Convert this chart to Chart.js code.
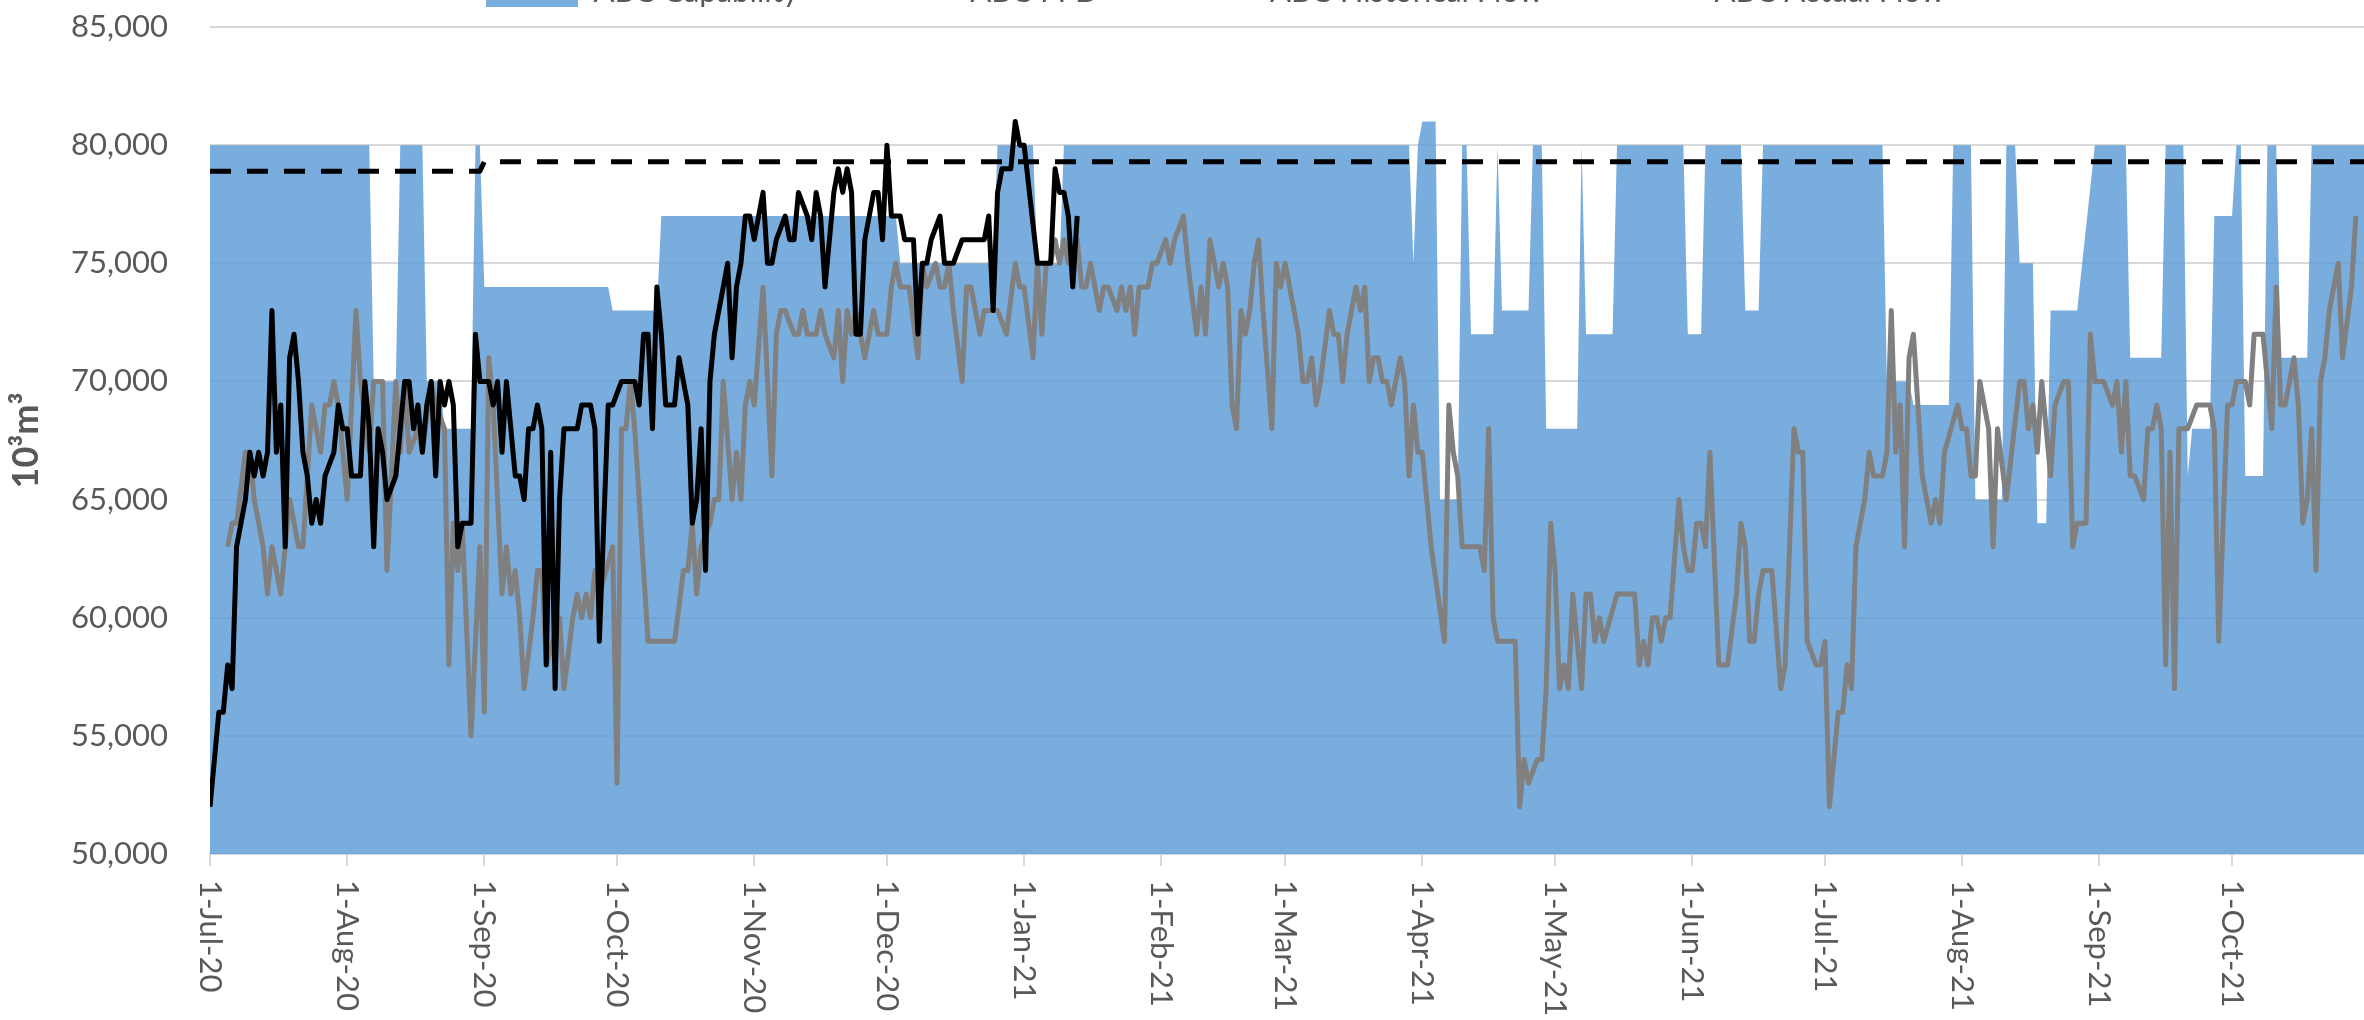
<!DOCTYPE html>
<html><head><meta charset="utf-8">
<script src="https://cdn.jsdelivr.net/npm/chart.js@4.4.1/dist/chart.umd.min.js"></script>
<style>
html,body{margin:0;padding:0;width:2364px;height:1020px;overflow:hidden;background:#fff}
#wrap{position:absolute;left:0;top:0}
canvas{display:block}
</style></head><body>
<div id="wrap"><canvas id="c"></canvas></div>
<script>
// ---- data (day index from 1-Jul-2020) ----
const monthTickDays = [0,31,62,92,123,153,184,215,243,274,304,335,365,396,427,457];
const monthTickLabels = ['1-Jul-20','1-Aug-20','1-Sep-20','1-Oct-20','1-Nov-20','1-Dec-20','1-Jan-21','1-Feb-21','1-Mar-21','1-Apr-21','1-May-21','1-Jun-21','1-Jul-21','1-Aug-21','1-Sep-21','1-Oct-21'];

const capabilityDays = [0,36,37,42,43,48,49,52,53,59,60,61,62,90,91,101,102,155,156,177,178,186,187,192,193,271,272,273,274,277,278,282,283,284,285,290,291,292,298,299,301,302,309,310,311,317,318,333,334,337,338,346,347,350,351,378,379,384,385,393,394,398,399,405,406,408,409,412,413,415,416,422,426,433,434,441,442,446,447,448,452,453,457,458,459,460,464,465,467,468,474,475,488];
const capabilityValues = [80000,80000,70000,70000,80000,80000,70000,70000,68000,68000,80000,80000,74000,74000,73000,73000,77000,77000,75000,75000,80000,80000,75000,75000,80000,80000,75000,80000,81000,81000,65000,65000,80000,80000,72000,72000,80000,73000,73000,80000,80000,68000,68000,80000,72000,72000,80000,80000,72000,72000,80000,80000,73000,73000,80000,80000,70000,70000,69000,69000,80000,80000,65000,65000,80000,80000,75000,75000,64000,64000,73000,73000,80000,80000,71000,71000,80000,80000,66000,68000,68000,77000,77000,80000,80000,66000,66000,80000,80000,71000,71000,80000,80000];

const ffdDays = [0,61,62,488];
const ffdValues = [78900,78900,79300,79300];

const historicalDays = [4,5,6,8,9,10,12,13,14,16,18,20,21,23,24,25,26,27,28,29,30,31,32,33,34,36,37,39,40,42,43,44,45,47,48,50,51,53,54,55,56,57,59,61,62,63,64,66,67,68,69,70,71,73,74,75,76,79,80,82,83,84,85,86,87,88,91,92,93,94,95,96,99,105,107,108,109,110,111,113,114,115,116,118,119,120,121,122,123,125,127,128,129,130,132,133,134,135,137,138,139,141,142,143,144,145,146,147,148,150,151,153,154,155,156,158,160,161,162,164,165,166,167,168,170,171,172,174,175,178,180,182,183,184,186,187,188,189,190,191,192,193,194,196,197,198,199,201,202,203,205,206,207,208,209,210,212,213,214,216,217,218,220,221,223,224,225,226,227,228,229,230,231,232,233,234,235,236,237,238,240,241,242,243,244,246,247,248,249,250,251,253,254,255,256,257,259,260,261,262,263,264,265,266,267,269,270,271,272,273,274,276,279,280,281,282,283,287,288,289,290,291,295,296,297,298,300,301,302,303,304,305,306,307,308,310,311,312,313,314,315,318,322,323,324,325,326,327,328,329,330,332,333,334,335,336,337,338,339,341,343,345,346,347,348,349,350,351,353,355,356,358,359,360,361,363,364,365,366,368,369,370,371,372,374,375,376,378,379,380,381,382,383,384,385,387,389,390,391,392,395,396,397,398,399,400,402,403,404,406,409,410,411,412,413,414,416,417,419,420,421,422,424,425,426,428,430,431,432,433,434,435,437,438,439,440,441,442,443,444,445,447,449,452,453,454,456,457,458,460,461,462,464,466,467,468,469,471,472,473,474,475,476,477,478,479,481,482,484,485];
const historicalValues = [63000,64000,64000,67000,67000,65000,63000,61000,63000,61000,65000,63000,63000,69000,68000,67000,69000,69000,70000,69000,67000,65000,69000,73000,70000,67000,70000,70000,62000,70000,67000,70000,67000,68000,67000,70000,69000,68000,58000,64000,62000,64000,55000,63000,56000,71000,69000,61000,63000,61000,62000,60000,57000,60000,62000,62000,58000,60000,57000,60000,61000,60000,61000,60000,62000,61000,63000,53000,68000,68000,70000,68000,59000,59000,62000,62000,64000,61000,63000,64000,65000,65000,70000,65000,67000,65000,69000,70000,69000,74000,66000,72000,73000,73000,72000,72000,73000,72000,72000,73000,72000,71000,73000,70000,73000,72000,73000,72000,71000,73000,72000,72000,74000,75000,74000,74000,71000,75000,74000,75000,74000,74000,75000,73000,70000,74000,74000,72000,73000,73000,72000,75000,74000,74000,71000,75000,72000,75000,75000,76000,75000,76000,75000,76000,74000,74000,75000,73000,74000,74000,73000,74000,73000,74000,72000,74000,74000,75000,75000,76000,75000,76000,77000,75000,72000,74000,72000,76000,75000,74000,75000,74000,69000,68000,73000,72000,73000,75000,76000,73000,68000,75000,74000,75000,74000,72000,70000,70000,71000,69000,70000,73000,72000,72000,70000,72000,74000,73000,74000,70000,71000,71000,70000,70000,69000,71000,70000,66000,69000,67000,67000,63000,59000,69000,67000,66000,63000,63000,62000,68000,60000,59000,59000,52000,54000,53000,54000,54000,57000,64000,62000,57000,58000,57000,61000,57000,61000,61000,59000,60000,59000,61000,61000,58000,59000,58000,60000,60000,59000,60000,60000,65000,63000,62000,62000,64000,64000,63000,67000,58000,58000,61000,64000,63000,59000,59000,61000,62000,62000,57000,58000,68000,67000,67000,59000,58000,58000,59000,52000,56000,56000,58000,57000,63000,65000,67000,66000,66000,67000,73000,67000,69000,63000,71000,72000,66000,64000,65000,64000,67000,69000,68000,68000,66000,66000,70000,68000,63000,68000,65000,70000,70000,68000,69000,67000,70000,66000,69000,70000,70000,63000,64000,64000,72000,70000,70000,69000,70000,67000,70000,66000,66000,65000,68000,68000,69000,68000,58000,67000,57000,68000,68000,69000,69000,68000,59000,69000,69000,70000,70000,69000,72000,72000,68000,74000,69000,69000,71000,69000,64000,65000,68000,62000,70000,71000,73000,75000,71000,74000,77000];

const actualDays = [0,2,3,4,5,6,7,8,9,10,11,12,13,14,15,16,17,18,19,20,21,22,23,24,25,26,28,29,30,31,32,34,35,36,37,38,39,40,42,44,45,46,47,48,49,50,51,52,53,54,55,56,57,59,60,61,63,64,65,66,67,69,70,71,72,73,74,75,76,77,78,79,80,83,84,86,87,88,90,91,93,96,97,98,99,100,101,102,103,105,106,107,108,109,110,111,112,113,114,116,117,118,119,120,121,122,123,125,126,127,128,130,131,132,133,135,136,137,138,139,141,142,143,144,145,146,147,148,150,151,152,153,154,156,157,159,160,161,162,163,165,166,168,170,175,176,177,178,179,181,182,183,184,187,190,191,192,193,194,195,196];
const actualValues = [52000,56000,56000,58000,57000,63000,64000,65000,67000,66000,67000,66000,67000,73000,67000,69000,63000,71000,72000,70000,67000,66000,64000,65000,64000,66000,67000,69000,68000,68000,66000,66000,70000,68000,63000,68000,67000,65000,66000,70000,70000,68000,69000,67000,69000,70000,66000,70000,69000,70000,69000,63000,64000,64000,72000,70000,70000,69000,70000,67000,70000,66000,66000,65000,68000,68000,69000,68000,58000,67000,57000,65000,68000,68000,69000,69000,68000,59000,69000,69000,70000,70000,69000,72000,72000,68000,74000,72000,69000,69000,71000,70000,69000,64000,65000,68000,62000,70000,72000,74000,75000,71000,74000,75000,77000,77000,76000,78000,75000,75000,76000,77000,76000,76000,78000,77000,76000,78000,77000,74000,78000,79000,78000,79000,78000,72000,72000,76000,78000,78000,76000,80000,77000,77000,76000,76000,72000,75000,75000,76000,77000,75000,75000,76000,76000,77000,73000,78000,79000,79000,81000,80000,80000,75000,75000,79000,78000,78000,77000,74000,77000];

// ---- layout constants ----
const PLOT_LEFT = 210, PLOT_TOP = 27, PLOT_BOTTOM = 854;
const PX_PER_DAY = (2232 - 210) / 457;
const LEGEND_GAP = 10;
const FONT = 'Lato';
const TXT = '#595959';
const GRID = '#d9d9d9';

function pts(d, v){ return d.map((x,i)=>({x:x, y:v[i]})); }

const xLabelPlugin = {
  id: 'xLabels',
  afterDraw(chart){
    const s = chart.scales.x, ctx = chart.ctx;
    ctx.save();
    ctx.font = '31px ' + FONT;
    ctx.fillStyle = TXT;
    ctx.textAlign = 'left';
    ctx.textBaseline = 'middle';
    monthTickDays.forEach((d,i)=>{
      const x = s.getPixelForValue(d);
      ctx.save();
      ctx.translate(x, s.top + 26);
      ctx.rotate(Math.PI/2);
      ctx.fillText(monthTickLabels[i], 0, 0);
      ctx.restore();
    });
    ctx.restore();
  }
};

const legendGapPlugin = {
  id: 'legendGap',
  beforeLayout(chart){
    const lg = chart.legend;
    if (lg && !lg._gapPatched){
      const f = lg.fit;
      lg.fit = function(){ f.apply(this, arguments); this.height += LEGEND_GAP; };
      lg._gapPatched = true;
    }
  }
};

function config(W){
  return {
    type: 'line',
    data: {
      datasets: [
        {label:'ABC Capability', data: pts(capabilityDays, capabilityValues), fill:'start',
         backgroundColor:'rgba(91,155,213,0.82)', borderColor:'rgba(0,0,0,0)', borderWidth:1,
         pointRadius:0, pointStyle:'rect', pointBackgroundColor:'rgba(91,155,213,0.82)', pointBorderWidth:0, pointBorderColor:'rgba(0,0,0,0)', order:3},
        {label:'ABC FFD', data: pts(ffdDays, ffdValues), borderColor:'#000', borderWidth:5, borderDash:[21,16],
         pointRadius:0, pointStyle:'line', pointBorderColor:'#000', pointBorderWidth:5, fill:false, order:2},
        {label:'ABC Historical Flow', data: pts(historicalDays, historicalValues), borderColor:'#808080', borderWidth:5,
         pointRadius:0, pointStyle:'line', pointBorderColor:'#808080', pointBorderWidth:5, fill:false, order:1},
        {label:'ABC Actual Flow', data: pts(actualDays, actualValues), borderColor:'#000', borderWidth:5,
         pointRadius:0, pointStyle:'line', pointBorderColor:'#000', pointBorderWidth:5, fill:false, order:0}
      ]
    },
    options: {
      responsive:false, animation:false, devicePixelRatio:1,
      layout:{padding:0},
      elements:{line:{tension:0, borderJoinStyle:'round'}},
      plugins:{
        tooltip:{enabled:false},
        legend:{position:'top', align:'center',
          labels:{font:{family:FONT,size:31}, color:TXT, usePointStyle:true, pointStyleWidth:92, boxWidth:92, padding:64,
            sort:(a,b)=>a.datasetIndex-b.datasetIndex}}
      },
      scales:{
        x:{type:'linear', min:0, max:(W - PLOT_LEFT)/PX_PER_DAY,
          afterBuildTicks(s){ s.ticks = monthTickDays.map(v=>({value:v})); },
          afterFit(s){ s.height = 200; },
          ticks:{display:false},
          grid:{display:true, drawOnChartArea:false, drawTicks:true, tickLength:12, color:GRID, lineWidth:2},
          border:{display:true, color:GRID, width:2}
        },
        y:{min:50000, max:85000,
          ticks:{stepSize:5000, font:{family:FONT,size:31}, color:TXT, padding:42,
            callback:(v)=>Number(v).toLocaleString('en-US')},
          afterFit(s){ s.width = PLOT_LEFT; },
          grid:{color:GRID, lineWidth:2, drawTicks:false},
          border:{display:false},
          title:{display:true, text:'10³m³', color:TXT, font:{family:FONT,size:36,weight:'bold'}, padding:{top:5,bottom:0}}
        }
      }
    },
    plugins:[xLabelPlugin, legendGapPlugin]
  };
}

const canvas = document.getElementById('c');
function build(W,H){
  canvas.width = W; canvas.height = H;
  canvas.style.width = W+'px'; canvas.style.height = H+'px';
  return new Chart(canvas, config(W));
}
let W = 2600, H = 1200;
let chart = build(W,H);
const top0 = chart.chartArea.top;
const hb0 = chart.legend.legendHitBoxes[0].left;
chart.destroy();
W = Math.round(W + 2*(486 - hb0));
H = Math.round((PLOT_BOTTOM - PLOT_TOP) + 200 + top0);
chart = build(W,H);
document.getElementById('wrap').style.top = (PLOT_TOP - chart.chartArea.top) + 'px';
</script>
</body></html>
